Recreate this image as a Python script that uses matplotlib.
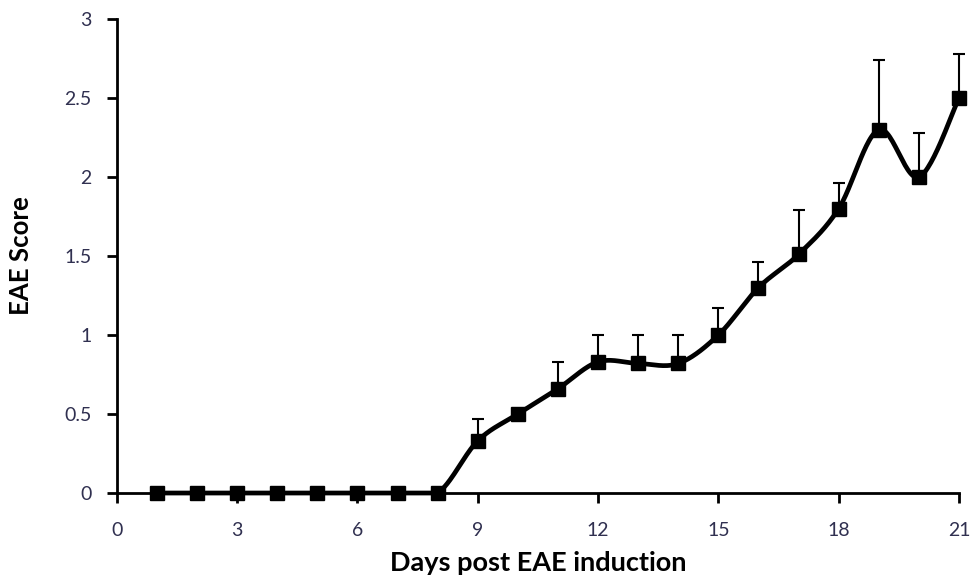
import numpy as np
import matplotlib
matplotlib.use("Agg")
import matplotlib.pyplot as plt

# data
days = np.arange(1, 22)
score = [0, 0, 0, 0, 0, 0, 0, 0, 0.33, 0.50, 0.66, 0.83, 0.82, 0.82,
         1.00, 1.30, 1.51, 1.80, 2.30, 2.00, 2.50]
sem = [0, 0, 0, 0, 0, 0, 0, 0, 0.14, 0, 0.17, 0.17, 0.18, 0.18,
       0.17, 0.16, 0.28, 0.16, 0.44, 0.28, 0.28]
xticks = [0, 3, 6, 9, 12, 15, 18, 21]
yticks = [0, 0.5, 1, 1.5, 2, 2.5, 3]
ytick_labels = ["0", "0.5", "1", "1.5", "2", "2.5", "3"]


def smooth_line(x, y, n=30):
    # Excel-style smoothed line: Catmull-Rom segments as cubic Beziers
    p = np.column_stack([x, y]).astype(float)
    p = np.vstack([p[0], p, p[-1]])
    out = []
    for i in range(1, len(p) - 2):
        p0, p1, p2, p3 = p[i - 1], p[i], p[i + 1], p[i + 2]
        c1 = p1 + (p2 - p0) / 6
        c2 = p2 - (p3 - p1) / 6
        t = np.linspace(0, 1, n)[:, None]
        seg = ((1 - t) ** 3) * p1 + 3 * ((1 - t) ** 2) * t * c1 + 3 * (1 - t) * t ** 2 * c2 + t ** 3 * p2
        out.append(seg if i == 1 else seg[1:])
    out = np.vstack(out)
    return out[:, 0], out[:, 1]


plt.rcParams['font.family'] = ['Lato', 'DejaVu Sans']

fig = plt.figure(figsize=(9.73, 5.79), dpi=100)
ax = fig.add_axes([0.120, 0.1485, 0.8656, 0.8185])

# upper-only error bars
d = np.array(days)
s = np.array(score)
e = np.array(sem)
has_err = e > 0
ax.vlines(d[has_err], s[has_err], s[has_err] + e[has_err], color='black', lw=1.5,
          zorder=2, clip_on=False)
ax.plot(d[has_err], s[has_err] + e[has_err], '_', color='black', markersize=9,
        markeredgewidth=1.5, zorder=2, clip_on=False)

sx, sy = smooth_line(days, score)
sy = np.maximum(sy, 0)  # scores never go below zero
ax.plot(sx, sy, color='black', lw=3.4, zorder=3, solid_capstyle='round', clip_on=False)
ax.plot(days, score, 's', color='black', markersize=10, zorder=4, clip_on=False)

ax.set_xlim(0, 21)
ax.set_ylim(0, 3)
ax.set_xticks(xticks)
ax.set_yticks(yticks)
ax.set_yticklabels(ytick_labels)

for side in ['top', 'right']:
    ax.spines[side].set_visible(False)
for side in ['left', 'bottom']:
    ax.spines[side].set_linewidth(2)
ax.tick_params(axis='both', direction='out', width=2, length=7, color='black',
               labelsize=14, labelcolor='#303050')
ax.tick_params(axis='x', pad=14)
ax.tick_params(axis='y', pad=11)

ax.set_xlabel("Days post EAE induction", fontsize=19.5, fontweight='bold')
ax.set_ylabel("EAE Score", fontsize=18.5, fontweight='bold')
ax.xaxis.set_label_coords(0.5, -0.122)
ax.yaxis.set_label_coords(-0.100, 0.5)

fig.savefig("out.png", dpi=100)
